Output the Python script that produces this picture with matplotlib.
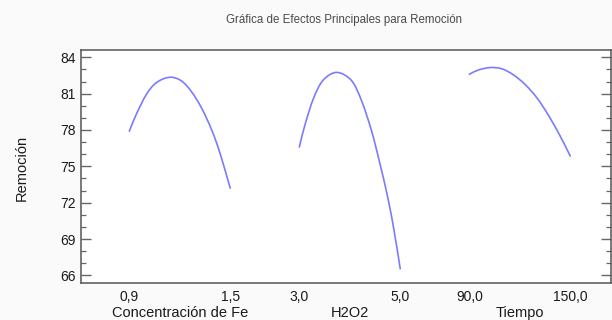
import matplotlib
matplotlib.use("Agg")
import numpy as np
import matplotlib.pyplot as plt
from matplotlib.patches import PathPatch
from matplotlib.path import Path
from matplotlib.ticker import MultipleLocator
import matplotlib.transforms as mtransforms

# Main effects for Remoción: response along each factor (others held at centre)
fe_levels = [0.90, 0.94, 1.00, 1.06, 1.14, 1.21, 1.27, 1.33, 1.39, 1.44, 1.50]
rem_fe = [77.9, 79.25, 80.9, 81.9, 82.35, 82.05, 81.15, 79.8, 78.0, 76.05, 73.2]

h2o2_levels = [3.0, 3.11, 3.28, 3.47, 3.74, 4.03, 4.23, 4.43, 4.59, 4.76, 4.89, 5.0]
rem_h2o2 = [76.6, 78.4, 80.6, 82.1, 82.75, 82.1, 80.45, 77.95, 75.35, 72.3, 69.4, 66.55]

tiempo_levels = [90, 95.4, 102.3, 109.3, 116.2, 123.2, 130.2, 137.1, 144.0, 150]
rem_tiempo = [82.6, 82.95, 83.15, 83.05, 82.55, 81.75, 80.65, 79.2, 77.5, 75.85]

factor_names = ["Concentración de Fe", "H2O2", "Tiempo"]
factor_low = [0.9, 3.0, 90.0]
factor_high = [1.5, 5.0, 150.0]
low_labels = ["0,9", "3,0", "90,0"]
high_labels = ["1,5", "5,0", "150,0"]

y_ticks = [66, 69, 72, 75, 78, 81, 84]

title = "Gráfica de Efectos Principales para Remoción"
y_label = "Remoción"

plt.rcParams["font.family"] = ["Liberation Sans", "DejaVu Sans"]


def smooth_path(xs, ys):
    """Catmull-Rom curve through the points, expressed as cubic Bezier segments."""
    p = np.column_stack([xs, ys]).astype(float)
    ext = np.vstack([2 * p[0] - p[1], p, 2 * p[-1] - p[-2]])
    verts = [tuple(p[0])]
    codes = [Path.MOVETO]
    for i in range(1, len(ext) - 2):
        p0, p1, p2, p3 = ext[i - 1], ext[i], ext[i + 1], ext[i + 2]
        c1 = p1 + (p2 - p0) / 6.0
        c2 = p2 - (p3 - p1) / 6.0
        verts += [tuple(c1), tuple(c2), tuple(p2)]
        codes += [Path.CURVE4] * 3
    return Path(verts, codes)


fig = plt.figure(figsize=(6.12, 3.2), dpi=100, facecolor="#fafafa")

ax = fig.add_axes([81 / 612, 1 - 282.7 / 320, (611 - 81) / 612, (282.7 - 50) / 320])
ax.set_facecolor("white")

# each factor occupies a unit-wide segment on a shared horizontal axis
seg_offsets = [0.0, 1.685, 3.37]
series = [(fe_levels, rem_fe), (h2o2_levels, rem_h2o2), (tiempo_levels, rem_tiempo)]
line_color = "#7b7bff"

tick_pos, tick_lab = [], []
for i, (lv, rv) in enumerate(series):
    lo, hi = factor_low[i], factor_high[i]
    xs = [seg_offsets[i] + (v - lo) / (hi - lo) for v in lv]
    ax.add_patch(PathPatch(smooth_path(xs, rv), fill=False, edgecolor=line_color,
                           lw=1.2, capstyle="round"))
    tick_pos += [seg_offsets[i], seg_offsets[i] + 1]
    tick_lab += [low_labels[i], high_labels[i]]

ax.set_xlim(-0.479, 4.774)
ax.set_ylim(65.4, 84.6)

ax.set_xticks(tick_pos)
ax.set_xticklabels(tick_lab)
ax.tick_params(axis="x", length=0, pad=5, labelsize=10, labelcolor="#1a1a1a")

ax.set_yticks(y_ticks)
ax.yaxis.set_minor_locator(MultipleLocator(1))
ax.tick_params(axis="y", which="major", direction="in", length=7, width=1.0,
               color="#666666", labelsize=10, labelcolor="#1a1a1a", pad=4,
               right=True)
ax.tick_params(axis="y", which="minor", direction="in", length=3.5, width=0.9,
               color="#666666", right=True)

for s in ax.spines.values():
    s.set_color("#555555")
    s.set_linewidth(1.1)

# factor names beneath the tick labels
trans = mtransforms.blended_transform_factory(ax.transData, fig.transFigure)
for i, name in enumerate(factor_names):
    ax.text(seg_offsets[i] + 0.5, 1 - 313 / 320, name, transform=trans,
            ha="center", va="center", fontsize=10.5, color="#1a1a1a")

fig.text(22 / 612, 1 - 168 / 320, y_label, rotation=90, ha="center", va="center",
         fontsize=10.5, color="#1a1a1a")

fig.text(344 / 612, 1 - 20 / 320, title, ha="center", va="center",
         fontsize=8.3, color="#4a4a4a")

fig.savefig("out.png", dpi=100, facecolor=fig.get_facecolor())
